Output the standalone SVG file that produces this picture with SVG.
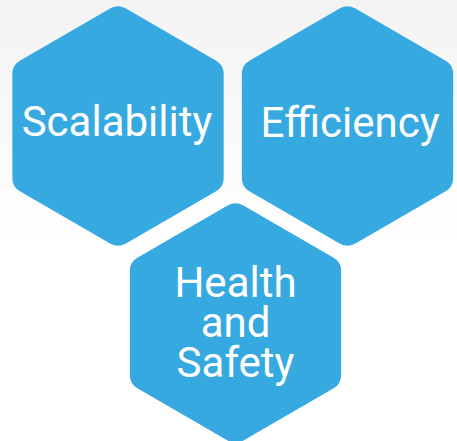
<svg xmlns="http://www.w3.org/2000/svg" xmlns:xlink="http://www.w3.org/1999/xlink" width="457" height="441" viewBox="0 0 457 441">
<style>
.hex{fill:#36a9e1}
.lbl{font-family:Roboto,"Noto Sans",sans-serif;font-size:42px;fill:#ffffff;text-anchor:middle}
</style>
<defs>
<linearGradient id="bg" x1="0" y1="0" x2="0" y2="1">
<stop offset="0" stop-color="#f3f3f3"/>
<stop offset="0.55" stop-color="#ffffff"/>
<stop offset="1" stop-color="#ffffff"/>
</linearGradient>
<path id="hexShape" d="M -7.5,-117.67 A15,15 0 0 1 7.5,-117.67 L 98.16,-65.33 A15,15 0 0 1 105.66,-52.34 L 105.66,52.34 A15,15 0 0 1 98.16,65.33 L 7.5,117.67 A15,15 0 0 1 -7.5,117.67 L -98.16,65.33 A15,15 0 0 1 -105.66,52.34 L -105.66,-52.34 A15,15 0 0 1 -98.16,-65.33 Z"/>
</defs>
<rect x="0" y="0" width="457" height="441" fill="url(#bg)"/>
<g id="scalability">
<use href="#hexShape" class="hex" transform="translate(118,126)"/>
<text class="lbl" x="117" y="136">Scalability</text>
</g>
<g id="efficiency">
<use href="#hexShape" class="hex" transform="translate(347.5,126)"/>
<text class="lbl" x="350" y="137">Efficiency</text>
</g>
<g id="health-and-safety">
<use href="#hexShape" class="hex" transform="translate(235.5,323)"/>
<text class="lbl" x="235.5" y="297">Health</text>
<text class="lbl" x="235.5" y="337">and</text>
<text class="lbl" x="235.5" y="377">Safety</text>
</g>
<g id="connectors"></g>
</svg>
